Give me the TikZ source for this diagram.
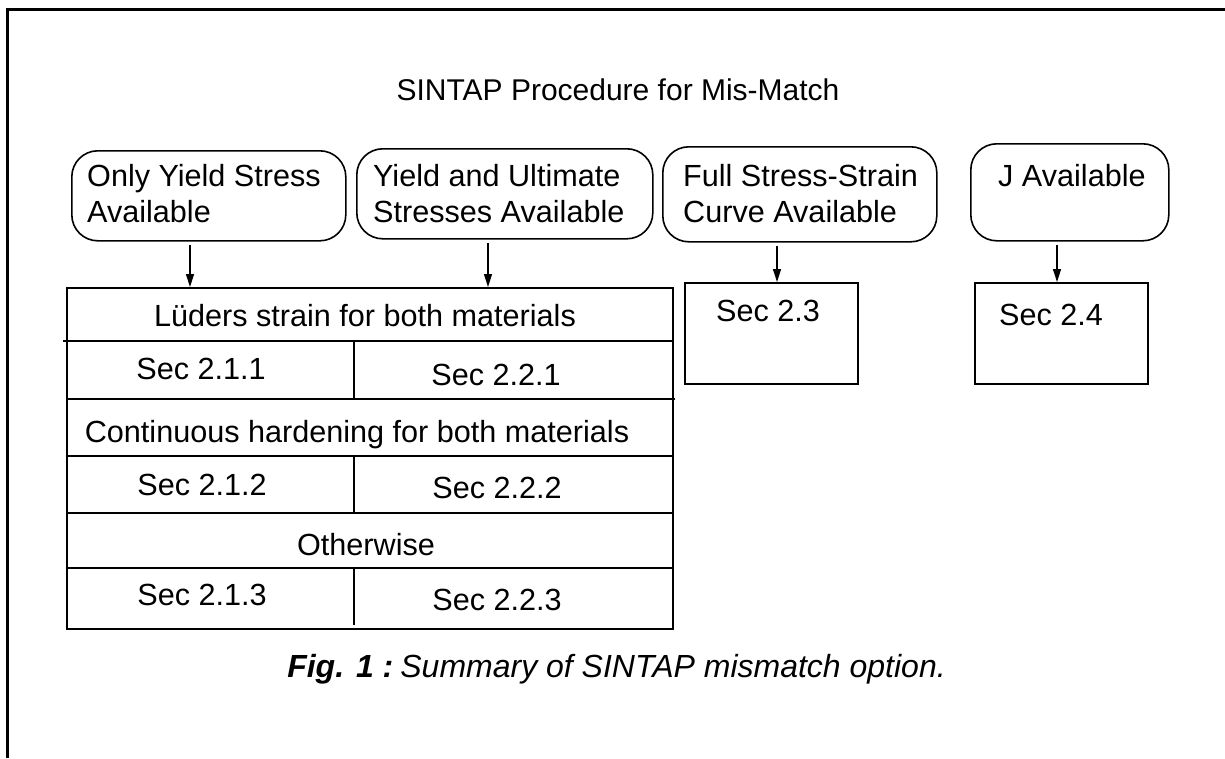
\documentclass[tikz,border=0pt]{standalone}
\usepackage{fontspec}
\setmainfont{Liberation Sans}
\usetikzlibrary{arrows.meta}
\begin{document}
\begin{tikzpicture}[x=1pt,y=-1pt,
  every node/.style={font=\fontsize{30.6}{36}\selectfont, inner sep=0pt},
  rbox/.style={draw, line width=1.6pt, rounded corners=26pt, anchor=north west,
    inner sep=0pt},
  btext/.style={anchor=north west, align=left},
  secbox/.style={draw, line width=1.6pt, anchor=north west, inner sep=0pt,
    minimum width=173pt, minimum height=101pt},
  tline/.style={line width=1.8pt},
  arr/.style={line width=1.4pt, -{Triangle[length=13pt,width=8pt]}, shorten <=3pt},
  frame/.style={line width=3pt},
  celltext/.style={anchor=base}
]
\useasboundingbox (0,0) rectangle (1225,758);
% outer frame (open on right and bottom)
\draw[frame] (7.5,758) -- (7.5,9.5) -- (1225,9.5);

% title
\node[anchor=base, font=\fontsize{30}{36}\selectfont] (title) at (618,100) {SINTAP Procedure for Mis-Match};

% top rounded boxes
\node[rbox, minimum width=274pt, minimum height=90pt] (b1) at (71,150) {};
\node[btext] (b1t) at (87,164.5) {Only Yield Stress\\Available};
\node[rbox, minimum width=296pt, minimum height=90pt] (b2) at (356,148) {};
\node[btext] (b2t) at (373,164.5) {Yield and Ultimate\\Stresses Available};
\node[rbox, minimum width=274pt, minimum height=95pt] (b3) at (662,146) {};
\node[btext] (b3t) at (683,164.5) {Full Stress-Strain\\Curve Available};
\node[rbox, minimum width=198pt, minimum height=97pt] (b4) at (970,143) {};
\node[btext] (b4t) at (998,164.5) {J Available};

% main table
\node[draw, line width=1.8pt, anchor=north west, minimum width=606pt,
  minimum height=341pt] (tbl) at (66,287) {};
\draw[tline] (63,341) -- (672,341);
\draw[tline] (66,399) -- (675,399);
\draw[tline] (68,456) -- (672,456);
\draw[tline] (68,513) -- (672,513);
\draw[tline] (68,568) -- (672,568);
\draw[tline] (354,341) -- (354,399);
\draw[tline] (354,456) -- (354,513);
\draw[tline] (354,568) -- (354,625);

\node[celltext] (r1) at (365,326) {Lüders strain for both materials};
\node[celltext] (c11) at (201,379) {Sec 2.1.1};
\node[celltext] (c21) at (496,385) {Sec 2.2.1};
\node[celltext] (r2) at (357,442) {Continuous hardening for both materials};
\node[celltext] (c12) at (202,495) {Sec 2.1.2};
\node[celltext] (c22) at (497,498) {Sec 2.2.2};
\node[celltext] (r3) at (366,555) {Otherwise};
\node[celltext] (c13) at (202,605) {Sec 2.1.3};
\node[celltext] (c23) at (497,610) {Sec 2.2.3};

% section boxes on the right
\node[secbox] (s23) at (684,282) {};
\node[anchor=base west] (s23t) at (716,321) {Sec 2.3};
\node[secbox] (s24) at (974,282) {};
\node[anchor=base west] (s24t) at (999,325) {Sec 2.4};

% arrows
\coordinate (a1) at (190,0);
\coordinate (a2) at (488,0);
\coordinate (a3) at (777,0);
\coordinate (a4) at (1057,0);
\draw[arr] (b1.south -| a1) -- (tbl.north -| a1);
\draw[arr] (b2.south -| a2) -- (tbl.north -| a2);
\draw[arr] (b3.south -| a3) -- (s23.north -| a3);
\draw[arr] (b4.south -| a4) -- (s24.north -| a4);

% caption
\node[anchor=base, font=\fontsize{32}{38}\selectfont\itshape] (cap) at (616.5,677)
  {\textbf{Fig. 1 :}\hspace{-0.15em} Summary of SINTAP mismatch option.};
\end{tikzpicture}
\end{document}
